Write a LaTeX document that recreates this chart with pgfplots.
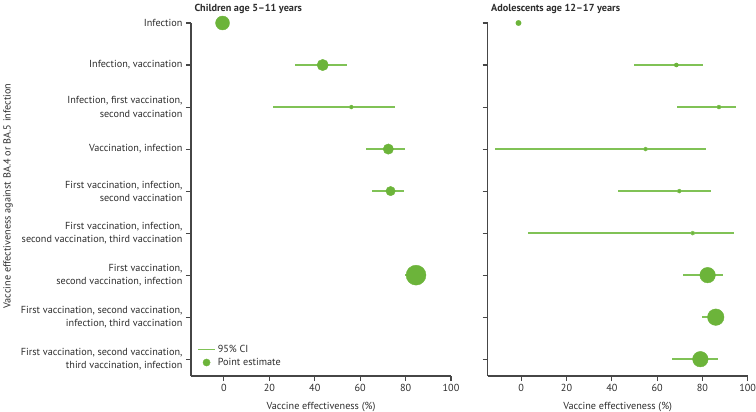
\documentclass[border=0pt]{standalone}
\usepackage{fontspec}
\setmainfont{PT Sans}
\usepackage{pgfplots}
\usepackage{pgfplotstable}
\pgfplotsset{compat=1.18}
\definecolor{ptgreen}{RGB}{108,180,58}
\definecolor{cigreen}{RGB}{128,194,86}
\definecolor{axgray}{RGB}{70,70,70}
\definecolor{txt}{RGB}{45,45,45}

% rows: 9 = top (Infection) ... 1 = bottom
\pgfplotstableread{
pos est lo hi r
9 -0.6 -0.6 -0.6 7
8 43.5 31.3 54.0 5.7
7 56.1 21.7 75.3 1.5
6 72.4 62.7 79.9 5.2
5 73.4 65.2 79.4 4.7
3 84.6 79.7 88.0 10
}\childdata

\pgfplotstableread{
pos est lo hi r
9 -1.2 -1.2 -1.2 2.7
8 68.5 49.8 80.3 2
7 87.3 68.6 94.8 1.5
6 54.9 -11.6 81.6 1.3
5 69.8 42.8 83.8 1.5
4 75.7 2.8 93.8 1
3 82.3 71.6 88.9 7.8
2 85.9 79.9 89.0 8.3
1 79.1 66.7 86.7 7.8
}\teendata

\pgfplotsset{
  forest/.style={
    scale only axis, width=260bp, height=353bp,
    ymin=0.6, ymax=9, xmax=100,
    clip=false,
    axis x line*=bottom, axis y line*=left,
    axis line style={axgray, line width=1.1pt},
    tick style={axgray, line width=1.1pt},
    tick align=outside, major tick length=5bp,
    ytick={1,...,9},
    xtick={0,20,...,100},
    /pgf/number format/assume math mode=true,
    tick label style={text=txt, font=\fontsize{10.25}{13.3}\selectfont},
    xlabel={Vaccine effectiveness (\%)},
    xlabel style={text=txt, font=\fontsize{10.25}{12}\selectfont,
      at={(axis description cs:0.5,0)}, anchor=center, yshift=-30.7bp},
    title style={text=txt, font=\bfseries\fontsize{10.25}{12}\selectfont,
      at={(0,1)}, anchor=base west, yshift=6bp},
  },
  ci/.style={only marks, mark=none, forget plot, color=cigreen,
    error bars/.cd, x dir=both, x explicit, error mark=none,
    error bar style={draw=cigreen, line width=1.5pt}},
  pe/.style={only marks, mark=*, scatter, forget plot, color=ptgreen,
    mark options={draw=none, fill=ptgreen},
    scatter/use mapped color={draw=none, fill=ptgreen},
    visualization depends on={\thisrow{r} \as \msize},
    scatter/@pre marker code/.append style={/tikz/mark size=\msize}},
}

\begin{document}
\begin{tikzpicture}
\useasboundingbox (0,0) rectangle (756bp,-412bp);

\begin{axis}[forest,
  at={(191bp,-376bp)}, anchor=south west,
  xmin=-14.5,
  title={Children age 5--11 years},
  yticklabel style={align=right},
  yticklabels={
    {First vaccination, second vaccination,\\third vaccination, infection},
    {First vaccination, second vaccination,\\infection, third vaccination},
    {First vaccination,\\second vaccination, infection},
    {First vaccination, infection,\\second vaccination, third vaccination},
    {First vaccination, infection,\\second vaccination},
    {Vaccination, infection},
    {Infection, first vaccination,\\second vaccination},
    {Infection, vaccination},
    {Infection}},
  legend style={at={(0.012,0.1)}, anchor=north west, draw=none, fill=none,
    font=\fontsize{10.25}{12}\selectfont, text=txt, row sep=0.5bp},
  legend cell align=left,
]
\addlegendimage{draw=cigreen, line width=1.5pt}
\addlegendentry{95\% CI}
\addlegendimage{only marks, mark=*, mark size=3.6pt, ptgreen}
\addlegendentry{Point estimate}
\addplot[ci] table[x=est, y=pos,
  x error plus expr=\thisrow{hi}-\thisrow{est},
  x error minus expr=\thisrow{est}-\thisrow{lo}] {\childdata};
\addplot[pe] table[x=est, y=pos] {\childdata};
\end{axis}

\begin{axis}[forest,
  at={(487.7bp,-376bp)}, anchor=south west,
  xmin=-14.8,
  title={Adolescents age 12--17 years},
  yticklabels={,,,,,,,,},
]
\addplot[ci] table[x=est, y=pos,
  x error plus expr=\thisrow{hi}-\thisrow{est},
  x error minus expr=\thisrow{est}-\thisrow{lo}] {\teendata};
\addplot[pe] table[x=est, y=pos] {\teendata};
\end{axis}

\node[rotate=90, text=txt, font=\fontsize{10.25}{12}\selectfont]
  at (8bp,-196bp) {Vaccine effectiveness against BA.4 or BA.5 infection};
\end{tikzpicture}
\end{document}
